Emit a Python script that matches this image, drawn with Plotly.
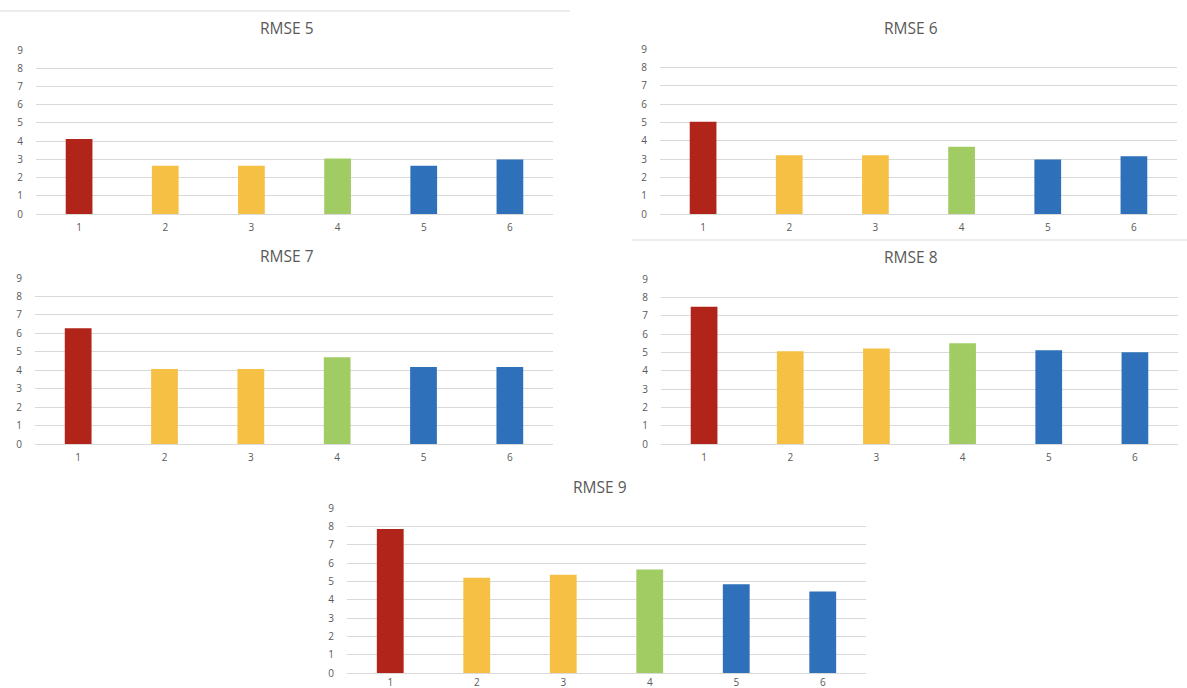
import plotly.graph_objects as go

W, H = 1187, 688

categories = ["1", "2", "3", "4", "5", "6"]
titles = ["RMSE 5", "RMSE 6", "RMSE 7", "RMSE 8", "RMSE 9"]
rmse5 = [4.11, 2.65, 2.65, 3.05, 2.65, 2.99]
rmse6 = [5.03, 3.20, 3.20, 3.67, 2.97, 3.15]
rmse7 = [6.27, 4.07, 4.07, 4.70, 4.18, 4.18]
rmse8 = [7.49, 5.06, 5.21, 5.50, 5.12, 5.01]
rmse9 = [7.86, 5.20, 5.36, 5.64, 4.84, 4.45]
series = [rmse5, rmse6, rmse7, rmse8, rmse9]
bar_colors = ["#B0241A", "#F5C043", "#F5C043", "#A1CC63", "#2E70B9", "#2E70B9"]

# panel plot-area boxes in pixels: (x0, x1, ytop, ybottom)
boxes = [
    (36, 553, 50, 214),
    (660, 1177, 49, 214),
    (35, 553, 278, 444),
    (661, 1178, 279, 444),
    (347, 866, 508, 673),
]
title_pos = [(287, 28), (911, 28), (287, 256), (911, 257), (600, 487)]
x_standoff = [4, 4, 4, 4, 0]

fig = go.Figure()
TXT = "#595959"
GRID = "#D9D9D9"
FONT = "Open Sans, Arial, sans-serif"

for i, (vals, box) in enumerate(zip(series, boxes)):
    n = i + 1
    xa = "x" if n == 1 else f"x{n}"
    ya = "y" if n == 1 else f"y{n}"
    fig.add_trace(go.Bar(
        x=categories, y=vals, xaxis=xa, yaxis=ya,
        marker=dict(color=bar_colors, line=dict(width=0)),
        width=0.31, showlegend=False,
    ))
    x0, x1, yt, yb = box
    xkey = "xaxis" if n == 1 else f"xaxis{n}"
    ykey = "yaxis" if n == 1 else f"yaxis{n}"
    fig.layout[xkey] = dict(
        domain=[x0 / W, x1 / W], anchor=ya, type="category",
        showgrid=False, showline=True, linecolor=GRID, linewidth=1,
        ticks="", tickfont=dict(size=10, color=TXT, family=FONT),
        ticklabelstandoff=x_standoff[i], fixedrange=True, automargin=False,
    )
    fig.layout[ykey] = dict(
        domain=[1 - yb / H, 1 - yt / H], anchor=xa,
        range=[0, 9], dtick=1, tick0=0,
        showgrid=True, gridcolor=GRID, gridwidth=1,
        zeroline=True, zerolinecolor=GRID, showline=False,
        ticks="", tickfont=dict(size=10, color=TXT, family=FONT),
        ticklabelstandoff=12, fixedrange=True, automargin=False,
    )
    tx, ty = title_pos[i]
    fig.add_annotation(
        x=tx / W, y=1 - ty / H, xref="paper", yref="paper",
        text=titles[i], showarrow=False, xanchor="center", yanchor="middle",
        font=dict(size=15.5, color=TXT, family=FONT),
    )

# chart border fragments
fig.add_shape(type="line", xref="paper", yref="paper",
              x0=0, x1=570 / W, y0=1 - 11 / H, y1=1 - 11 / H,
              line=dict(color=GRID, width=1))
fig.add_shape(type="line", xref="paper", yref="paper",
              x0=632 / W, x1=1, y0=1 - 240 / H, y1=1 - 240 / H,
              line=dict(color=GRID, width=1))

fig.update_layout(
    template="none",
    width=W, height=H, margin=dict(l=0, r=0, t=0, b=0, pad=0, autoexpand=False),
    paper_bgcolor="white", plot_bgcolor="white",
    bargap=0.69,
)
fig.write_html("out.html")
